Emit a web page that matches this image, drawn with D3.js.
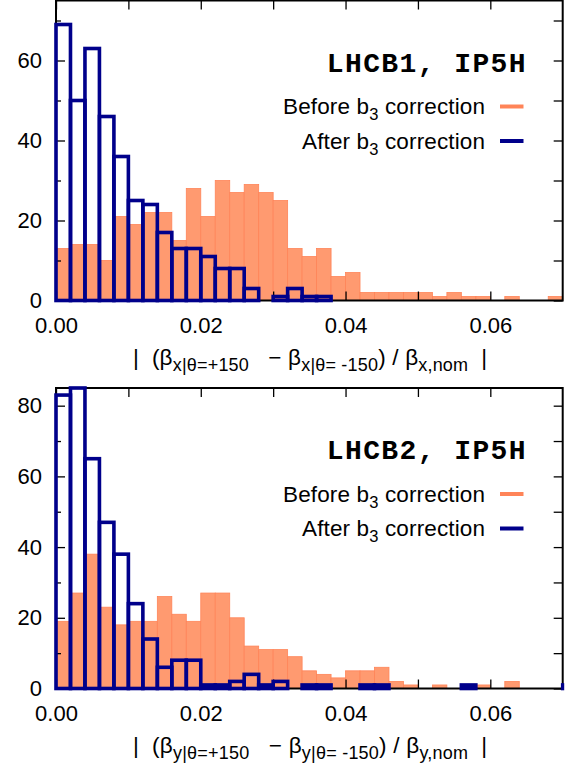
<!DOCTYPE html>
<html>
<head>
<meta charset="utf-8">
<script src="https://cdn.jsdelivr.net/npm/d3@7"></script>
<style>
  html, body { margin: 0; padding: 0; background: #fff; }
  svg { display: block; }
  text { font-family: "Liberation Sans", Arial, sans-serif; }
</style>
</head>
<body>
<svg id="chart" width="573" height="765"></svg>
<script>
// ---------- data ----------
// left edges of the histogram bins (bin width 0.002)
const binStarts = [0.000,0.002,0.004,0.006,0.008,0.010,0.012,0.014,0.016,0.018,
                   0.020,0.022,0.024,0.026,0.028,0.030,0.032,0.034,0.036,0.038,
                   0.040,0.042,0.044,0.046,0.048,0.050,0.052,0.054,0.056,0.058,
                   0.060,0.062,0.064,0.066,0.068,0.070];
const binWidth = 0.002;

// Panel 1: LHCB1, IP5H (horizontal beta beating)
const b1Before = [13,14,14,10,21,19,22,22,15,28,21,30,27,29,27,25,13,11,13,6,
                  7,2,2,2,2,2,1,2,1,1,0,1,0,0,1,0];
const b1After  = [69,50,63,46,36,25,24,17,13,13,11,8,8,3,0,1,3,1,1,0,
                  0,0,0,0,0,0,0,0,0,0,0,0,0,0,0,0];

// Panel 2: LHCB2, IP5H (vertical beta beating)
const b2Before = [19,27,38,23,18,19,19,26,21,19,27,27,20,12,11,11,9,5,4,3,
                  5,5,6,2,1,0,1,0,0,1,0,2,0,0,0,0];
const b2After  = [83,85,65,47,38,24,14,6,8,8,1,1,2,4,1,2,0,1,1,0,
                  0,1,1,0,0,0,0,0,1,0,0,0,0,0,0,1];

const xTickValues  = [0.00,0.01,0.02,0.03,0.04,0.05,0.06];
const xLabelValues = [0.00,0.02,0.04,0.06];
const y1Major = [0,20,40,60];
const y1Minor = [10,30,50,70];
const y2Major = [0,20,40,60,80];
const y2Minor = [10,30,50,70];

const titles = ["LHCB1, IP5H", "LHCB2, IP5H"];
const legendLabels = ["Before", "After"];
const axisVar = ["x", "y"];

// ---------- layout ----------
const svg = d3.select("#chart");
const left = 56, right = 562.7;
const x = d3.scaleLinear().domain([0, 0.07]).range([left, right]);

const panels = [
  { top: 0.5, bottom: 300.5, ymax: 75, before: b1Before, after: b1After,
    major: y1Major, minor: y1Minor, title: titles[0], v: axisVar[0] },
  { top: 388, bottom: 688.5, ymax: 85, before: b2Before, after: b2After,
    major: y2Major, minor: y2Minor, title: titles[1], v: axisVar[1] }
];

const orangeFill = "#ff9a70", orangeEdge = "#ff8458";
const blue = "#00008b";

panels.forEach((p, pi) => {
  const y = d3.scaleLinear().domain([0, p.ymax]).range([p.bottom, p.top]);
  const g = svg.append("g");

  const clipId = "clip" + pi;
  g.append("clipPath").attr("id", clipId)
    .append("rect")
    .attr("x", left - 3).attr("y", p.top - 3)
    .attr("width", right - left + 4.5).attr("height", p.bottom - p.top + 6);

  const binsB = binStarts.map((s, i) => ({ s, v: p.before[i] })).filter(d => d.v > 0);
  const binsA = binStarts.map((s, i) => ({ s, v: p.after[i] })).filter(d => d.v > 0);

  // orange filled histogram
  g.append("g").attr("clip-path", `url(#${clipId})`)
    .selectAll("rect").data(binsB).join("rect")
    .attr("x", d => x(d.s))
    .attr("width", d => x(d.s + binWidth) - x(d.s))
    .attr("y", d => y(d.v))
    .attr("height", d => y(0) - y(d.v))
    .attr("fill", orangeFill)
    .attr("stroke", orangeEdge)
    .attr("stroke-width", 0.8);

  // axes (inward ticks)
  const axG = g.append("g");
  const styleAxis = sel => {
    sel.select(".domain").remove();
    sel.selectAll("line").attr("stroke", "#000").attr("stroke-width", 1.3);
    sel.selectAll("text").attr("fill", "#000")
      .style("font-family", "'Liberation Sans', Arial, sans-serif")
      .style("font-size", "22px");
  };

  // bottom
  axG.append("g").attr("transform", `translate(0,${p.bottom})`)
    .call(d3.axisBottom(x).tickValues(xTickValues).tickSize(-9).tickFormat(""))
    .call(styleAxis);
  axG.append("g").attr("transform", `translate(0,${p.bottom})`)
    .call(d3.axisBottom(x).tickValues(xLabelValues).tickSize(0).tickPadding(17)
      .tickFormat(d3.format(".2f")))
    .call(styleAxis);
  // top
  axG.append("g").attr("transform", `translate(0,${p.top})`)
    .call(d3.axisTop(x).tickValues(xTickValues).tickSize(-9).tickFormat(""))
    .call(styleAxis);
  // left
  axG.append("g").attr("transform", `translate(${left},0)`)
    .call(d3.axisLeft(y).tickValues(p.major).tickSize(-9).tickPadding(14))
    .call(styleAxis);
  axG.append("g").attr("transform", `translate(${left},0)`)
    .call(d3.axisLeft(y).tickValues(p.minor).tickSize(-5).tickFormat(""))
    .call(styleAxis);
  // right
  axG.append("g").attr("transform", `translate(${right},0)`)
    .call(d3.axisRight(y).tickValues(p.major.concat(p.minor)).tickSize(-9).tickFormat(""))
    .call(styleAxis);

  // frame
  g.append("rect")
    .attr("x", left).attr("y", p.top)
    .attr("width", right - left).attr("height", p.bottom - p.top)
    .attr("fill", "none").attr("stroke", "#000").attr("stroke-width", 2);

  // blue outlined histogram
  g.append("g").attr("clip-path", `url(#${clipId})`)
    .selectAll("rect").data(binsA).join("rect")
    .attr("x", d => x(d.s))
    .attr("width", d => x(d.s + binWidth) - x(d.s))
    .attr("y", d => y(d.v))
    .attr("height", d => y(0) - y(d.v))
    .attr("fill", "none")
    .attr("stroke", blue)
    .attr("stroke-width", 3.6);

  // title
  g.append("text")
    .attr("x", 527).attr("y", p.top + 71)
    .attr("text-anchor", "end")
    .style("font-family", "'Liberation Mono', 'Courier New', monospace")
    .style("font-weight", "bold")
    .style("font-size", "28px")
    .style("letter-spacing", "1.4px")
    .text(p.title);

  // legend
  const legColors = [orangeEdge, blue];
  const legWidths = [202, 183];
  legendLabels.forEach((lab, li) => {
    const cy = p.top + 106 + li * 34.5;
    const t = g.append("text")
      .attr("x", 485).attr("y", cy + 7.5)
      .attr("text-anchor", "end")
      .style("font-size", "22.5px");
    t.append("tspan").text(lab + " b");
    t.append("tspan").attr("dy", 6).style("font-size", "16.5px").text("3");
    t.append("tspan").attr("dy", -6).text(" correction");
    t.attr("textLength", legWidths[li]).attr("lengthAdjust", "spacing");
    g.append("line")
      .attr("x1", 500).attr("x2", 523.5)
      .attr("y1", cy).attr("y2", cy)
      .attr("stroke", legColors[li]).attr("stroke-width", 4);
  });

  // x-axis label
  const v = p.v;
  const lt = g.append("text")
    .attr("x", 310).attr("y", p.bottom + 64)
    .attr("text-anchor", "middle")
    .style("font-size", "22.5px")
    .style("white-space", "pre");
  lt.append("tspan").text("|  (\u03b2");
  lt.append("tspan").attr("dy", 6).style("font-size", "18px").text(v + "|\u03b8=+150");
  lt.append("tspan").attr("dy", -6).text("   \u2212 \u03b2");
  lt.append("tspan").attr("dy", 6).style("font-size", "18px").text(v + "|\u03b8= -150");
  lt.append("tspan").attr("dy", -6).text(") / \u03b2");
  lt.append("tspan").attr("dy", 6).style("font-size", "18px").text(v + ",nom");
  lt.append("tspan").attr("dy", -6).text("  |");
  lt.attr("textLength", 354).attr("lengthAdjust", "spacing");
});
</script>
</body>
</html>
